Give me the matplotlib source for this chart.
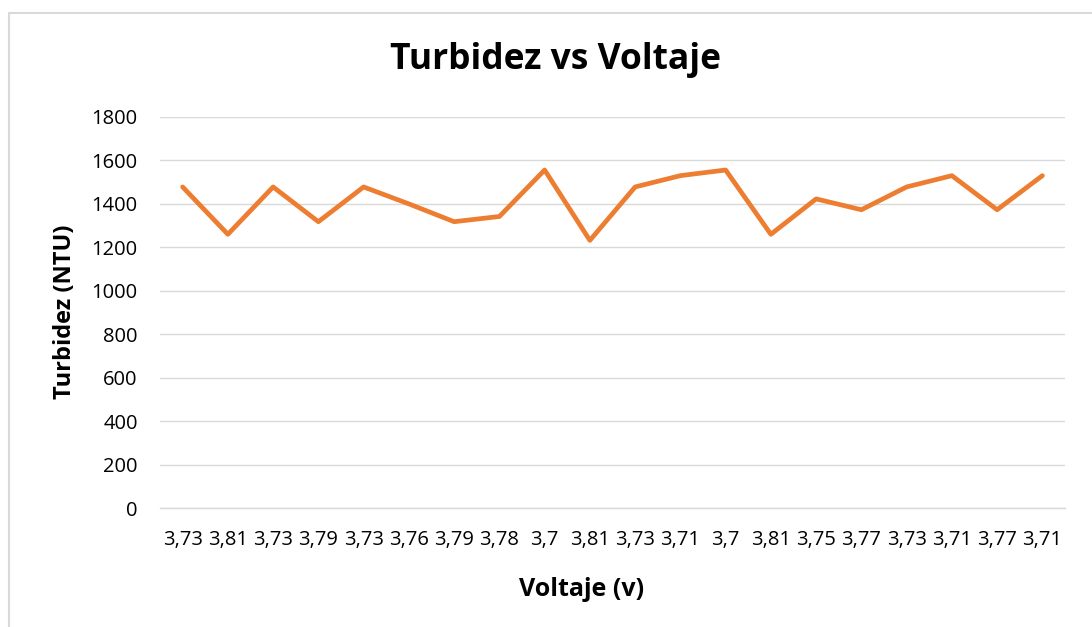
import matplotlib
matplotlib.use("Agg")
import matplotlib.pyplot as plt
from matplotlib.patches import Rectangle

plt.rcParams['font.family'] = ['Open Sans', 'DejaVu Sans']

# data
voltaje = ["3,73", "3,81", "3,73", "3,79", "3,73", "3,76", "3,79", "3,78", "3,7", "3,81",
           "3,73", "3,71", "3,7", "3,81", "3,75", "3,77", "3,73", "3,71", "3,77", "3,71"]
turbidez = [1478, 1260, 1478, 1318, 1478, 1400, 1318, 1342, 1556, 1232,
            1478, 1530, 1556, 1260, 1423, 1373, 1478, 1530, 1373, 1530]
y_ticks = [0, 200, 400, 600, 800, 1000, 1200, 1400, 1600, 1800]

W, H = 1092, 627
fig = plt.figure(figsize=(W / 100, H / 100), dpi=100)

# chart area border (cropped at right/bottom)
fig.patches.append(Rectangle((8.5 / W, -0.1), 1.2, (H - 12.5) / H + 0.1,
                             transform=fig.transFigure, fill=False,
                             edgecolor='#D9D9D9', lw=1.5))

ax = fig.add_axes([160 / W, (H - 508) / H, 905 / W, 391 / H])
x = range(len(turbidez))
ax.plot(x, turbidez, color='#ED7D31', lw=3.4, solid_joinstyle='round',
        solid_capstyle='round')

ax.set_xlim(-0.5, len(turbidez) - 0.5)
ax.set_ylim(0, 1800)
ax.set_yticks(y_ticks)
ax.set_yticklabels([str(v) for v in y_ticks], fontsize=14.5, color='#000000')
ax.set_xticks(list(x))
ax.set_xticklabels(voltaje, fontsize=14.5, color='#000000')
ax.tick_params(length=0)
ax.tick_params(axis='y', pad=16)
ax.tick_params(axis='x', pad=16)

ax.grid(axis='y', color='#D9D9D9', lw=1)
ax.set_axisbelow(True)
for s in ['top', 'right', 'left']:
    ax.spines[s].set_visible(False)
ax.spines['bottom'].set_color('#D9D9D9')
ax.spines['bottom'].set_linewidth(1)

fig.text(555 / W, 1 - 60 / H, "Turbidez vs Voltaje", ha='center', va='center',
         fontsize=25.5, fontweight='bold')
fig.text(65 / W, 1 - 312 / H, "Turbidez (NTU)", ha='center', va='center',
         rotation=90, fontsize=17, fontweight='bold')
fig.text(582 / W, 1 - 590 / H, "Voltaje (v)", ha='center', va='center',
         fontsize=18, fontweight='bold')

fig.savefig("out.png", dpi=100)
